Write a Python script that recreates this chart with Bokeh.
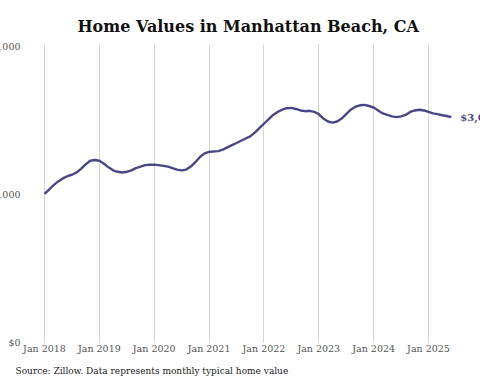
from bokeh.plotting import figure
from bokeh.models import Range1d, FixedTicker, Label, Title
from bokeh.embed import file_html
from bokeh.resources import INLINE

# ---- data (monthly typical home value, millions USD), Jan 2018 .. Jun 2025 ----
start_year = 2018
values_2018 = [2.01, 2.07, 2.13, 2.18, 2.22, 2.25, 2.27, 2.30, 2.35, 2.41, 2.46, 2.47]
values_2019 = [2.46, 2.42, 2.37, 2.33, 2.31, 2.30, 2.31, 2.33, 2.36, 2.38, 2.40, 2.405]
values_2020 = [2.405, 2.40, 2.39, 2.38, 2.36, 2.34, 2.33, 2.34, 2.38, 2.44, 2.51, 2.56]
values_2021 = [2.58, 2.585, 2.59, 2.61, 2.64, 2.67, 2.70, 2.73, 2.76, 2.79, 2.84, 2.90]
values_2022 = [2.96, 3.02, 3.08, 3.12, 3.15, 3.17, 3.175, 3.16, 3.14, 3.13, 3.135, 3.12]
values_2023 = [3.09, 3.03, 2.99, 2.975, 2.99, 3.03, 3.09, 3.15, 3.19, 3.21, 3.215, 3.20]
values_2024 = [3.18, 3.14, 3.10, 3.08, 3.06, 3.05, 3.06, 3.08, 3.12, 3.14, 3.15, 3.14]
values_2025 = [3.12, 3.10, 3.09, 3.075, 3.065, 3.05]

tick_years = [2018, 2019, 2020, 2021, 2022, 2023, 2024, 2025]
tick_labels = ["Jan 2018", "Jan 2019", "Jan 2020", "Jan 2021",
               "Jan 2022", "Jan 2023", "Jan 2024", "Jan 2025"]
y_ticks = [0, 2_000_000, 4_000_000]
y_tick_labels = ["$0", "$2,000,000", "$4,000,000"]

title_text = "Home Values in Manhattan Beach, CA"
source_text = "Source: Zillow. Data represents monthly typical home value"

all_vals = (values_2018 + values_2019 + values_2020 + values_2021 +
            values_2022 + values_2023 + values_2024 + values_2025)
xs = [start_year + i / 12 for i in range(len(all_vals))]
ys = [v * 1_000_000 for v in all_vals]

LINE = "#4a4788"
SERIF = "DejaVu Serif"

x_start, x_end = 2017.198, 2025.948
y_start, y_end = -67_500, 4_100_000
grid_top = 4_027_000
p = figure(width=480, height=384, output_backend="svg", toolbar_location=None,
           x_range=Range1d(x_start, x_end), y_range=Range1d(y_start, y_end),
           min_border_left=0, min_border_right=0, min_border_top=39,
           min_border_bottom=37)
p.outline_line_color = None
p.background_fill_color = "white"
p.border_fill_color = "white"

p.title.text = title_text
p.title.align = "left"
p.title.offset = 77
p.title.text_font = SERIF
p.title.text_font_style = "bold"
p.title.text_font_size = "16px"
p.title.text_color = "#111111"
p.title.standoff = 7

p.yaxis.visible = False
p.ygrid.grid_line_color = None

xa = p.xaxis[0]
xa.ticker = FixedTicker(ticks=tick_years)
xa.major_label_overrides = {y: l for y, l in zip(tick_years, tick_labels)}
xa.axis_line_color = None
xa.major_tick_line_color = None
xa.minor_tick_line_color = None
xa.major_tick_in = 0
xa.major_tick_out = 0
xa.major_label_standoff = -5
xa.major_label_text_font = SERIF
xa.major_label_text_font_size = "9.5px"
xa.major_label_text_color = "#555555"

p.xgrid.ticker = FixedTicker(ticks=tick_years)
p.xgrid.grid_line_color = "#d6d6d6"
p.xgrid.grid_line_width = 1
p.xgrid.cross_bounds = (0, grid_top)

p.line(xs, ys, line_color=LINE, line_width=2.4)

for v, lab in zip(y_ticks, y_tick_labels):
    p.add_layout(Label(x=x_start, y=v, text=lab, x_offset=20,
                       text_align="right", text_baseline="middle",
                       text_font=SERIF, text_font_size="9.5px",
                       text_color="#555555"))

p.add_layout(Label(x=xs[-1], y=ys[-1], text=f"${ys[-1]:,.0f}", x_offset=9,
                   text_align="left", text_baseline="middle",
                   text_font=SERIF, text_font_style="bold",
                   text_font_size="10px", text_color=LINE))

p.add_layout(Title(text=source_text, align="left", offset=15, text_font=SERIF,
                   text_font_size="9px", text_font_style="normal",
                   text_color="#222222", standoff=14), "below")

open("out.html", "w").write(file_html(p, INLINE))
